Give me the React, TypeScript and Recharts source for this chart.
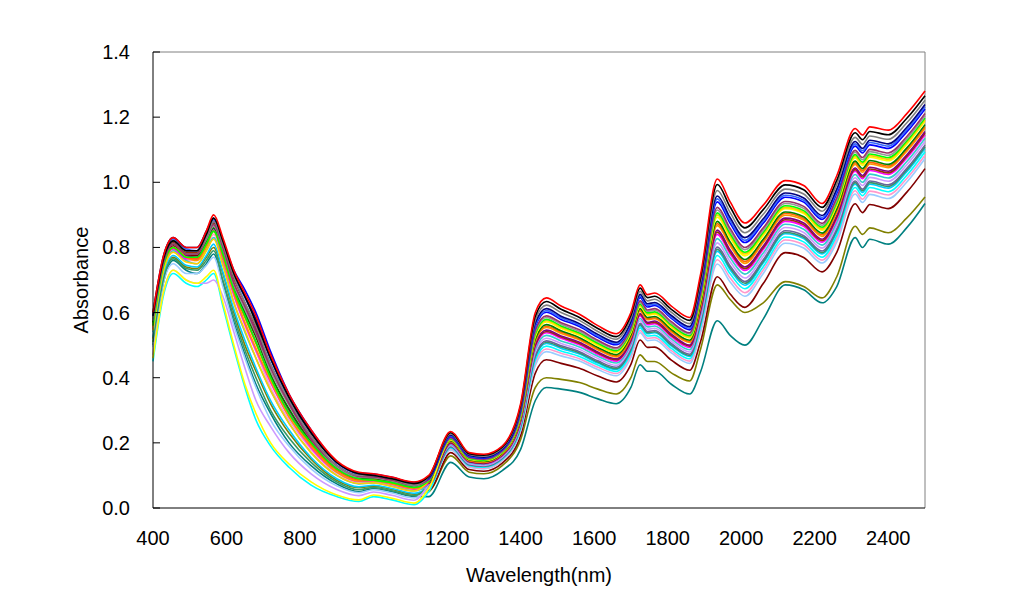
import { LineChart, Line, XAxis, YAxis, ReferenceLine } from "recharts";

// wavelength grid (nm)
const wavelengths = [
  400, 430, 455, 490, 520, 545, 565, 590, 620, 650, 680, 720, 770, 830, 900, 960, 1000, 1050, 1110,
  1150, 1210, 1260, 1300, 1350, 1400, 1440, 1470, 1510, 1560, 1610, 1660, 1700, 1725, 1745, 1765,
  1810, 1860, 1890, 1935, 1970, 2010, 2060, 2120, 2170, 2220, 2260, 2310, 2330, 2350, 2400, 2450, 2500,
];

const xTicks = [400, 600, 800, 1000, 1200, 1400, 1600, 1800, 2000, 2200, 2400];
const yTicks = [0, 0.2, 0.4, 0.6, 0.8, 1.0, 1.2, 1.4];

// absorbance spectra, one array per sample
const teal = [0.50, 0.70, 0.76, 0.73, 0.72, 0.75, 0.78, 0.69, 0.57, 0.47, 0.38, 0.29, 0.20, 0.13, 0.074, 0.05, 0.06, 0.05, 0.035,
  0.035, 0.14, 0.095, 0.09, 0.115, 0.18, 0.33, 0.37, 0.365, 0.355, 0.335, 0.32, 0.37, 0.44, 0.42, 0.42, 0.38, 0.35, 0.42, 0.575, 0.53, 0.50, 0.58, 0.685, 0.67, 0.63, 0.68, 0.83, 0.80, 0.825, 0.81, 0.86, 0.935];
const olive = [0.52, 0.715, 0.77, 0.74, 0.735, 0.77, 0.80, 0.72, 0.60, 0.50, 0.42, 0.32, 0.23, 0.15, 0.085, 0.062, 0.067, 0.057, 0.042,
  0.05, 0.16, 0.11, 0.105, 0.13, 0.21, 0.37, 0.40, 0.395, 0.385, 0.365, 0.35, 0.40, 0.47, 0.45, 0.45, 0.415, 0.39, 0.49, 0.685, 0.64, 0.60, 0.63, 0.695, 0.68, 0.645, 0.71, 0.865, 0.84, 0.86, 0.845, 0.89, 0.955];
const maroon = [0.57, 0.755, 0.805, 0.775, 0.775, 0.815, 0.855, 0.785, 0.675, 0.60, 0.525, 0.41, 0.30, 0.20, 0.12, 0.09, 0.09, 0.08, 0.065,
  0.055, 0.17, 0.118, 0.113, 0.138, 0.223, 0.414, 0.455, 0.444, 0.429, 0.405, 0.387, 0.441, 0.516, 0.493, 0.494, 0.454, 0.423, 0.513, 0.71, 0.657, 0.616, 0.689, 0.784, 0.769, 0.725, 0.785, 0.934, 0.907, 0.932, 0.919, 0.969, 1.042];
const paleBlue = [0.495, 0.70, 0.75, 0.72, 0.72, 0.745, 0.77, 0.68, 0.56, 0.46, 0.37, 0.27, 0.19, 0.12, 0.068, 0.047, 0.056, 0.046, 0.031,
  0.061, 0.178, 0.125, 0.12, 0.145, 0.236, 0.438, 0.48, 0.467, 0.451, 0.425, 0.406, 0.462, 0.538, 0.514, 0.516, 0.476, 0.444, 0.54, 0.749, 0.694, 0.65, 0.72, 0.813, 0.798, 0.752, 0.816, 0.964, 0.938, 0.963, 0.95, 1.00, 1.073];
const rose = [0.55, 0.74, 0.79, 0.76, 0.76, 0.80, 0.84, 0.76, 0.65, 0.56, 0.48, 0.37, 0.27, 0.18, 0.107, 0.079, 0.08, 0.07, 0.056,
  0.063, 0.181, 0.127, 0.122, 0.147, 0.24, 0.446, 0.488, 0.475, 0.458, 0.432, 0.413, 0.469, 0.545, 0.521, 0.523, 0.483, 0.451, 0.549, 0.762, 0.706, 0.661, 0.731, 0.823, 0.808, 0.761, 0.826, 0.974, 0.948, 0.973, 0.961, 1.011, 1.083];
const cyan = [0.45, 0.66, 0.72, 0.69, 0.68, 0.70, 0.72, 0.62, 0.49, 0.37, 0.27, 0.19, 0.125, 0.07, 0.035, 0.02, 0.035, 0.025, 0.01,
  0.05, 0.184, 0.13, 0.125, 0.15, 0.244, 0.454, 0.497, 0.482, 0.465, 0.439, 0.419, 0.476, 0.553, 0.528, 0.53, 0.49, 0.458, 0.558, 0.775, 0.719, 0.673, 0.741, 0.832, 0.817, 0.77, 0.836, 0.984, 0.959, 0.984, 0.971, 1.021, 1.094];
const sky = [0.525, 0.72, 0.775, 0.745, 0.74, 0.775, 0.81, 0.725, 0.61, 0.515, 0.43, 0.33, 0.24, 0.155, 0.09, 0.065, 0.07, 0.06, 0.045,
  0.067, 0.187, 0.132, 0.127, 0.152, 0.249, 0.462, 0.505, 0.49, 0.473, 0.445, 0.425, 0.483, 0.56, 0.535, 0.538, 0.498, 0.465, 0.567, 0.788, 0.731, 0.684, 0.752, 0.842, 0.827, 0.78, 0.847, 0.994, 0.969, 0.994, 0.982, 1.032, 1.104];
const seaGreen = [0.51, 0.71, 0.765, 0.735, 0.73, 0.76, 0.79, 0.70, 0.585, 0.485, 0.40, 0.30, 0.215, 0.14, 0.08, 0.056, 0.063, 0.053, 0.038,
  0.068, 0.188, 0.133, 0.128, 0.153, 0.251, 0.466, 0.509, 0.494, 0.476, 0.448, 0.428, 0.486, 0.563, 0.538, 0.541, 0.501, 0.468, 0.571, 0.794, 0.737, 0.69, 0.757, 0.846, 0.831, 0.784, 0.852, 0.999, 0.974, 0.999, 0.987, 1.037, 1.109];
const blueGray = [0.565, 0.75, 0.80, 0.77, 0.77, 0.81, 0.85, 0.78, 0.67, 0.59, 0.51, 0.40, 0.295, 0.195, 0.117, 0.088, 0.088, 0.078, 0.062,
  0.069, 0.189, 0.134, 0.129, 0.154, 0.253, 0.47, 0.513, 0.498, 0.48, 0.452, 0.432, 0.49, 0.567, 0.542, 0.545, 0.505, 0.472, 0.576, 0.801, 0.743, 0.695, 0.762, 0.851, 0.836, 0.789, 0.857, 1.004, 0.979, 1.004, 0.992, 1.042, 1.114];
const lavender = [0.47, 0.67, 0.73, 0.70, 0.69, 0.69, 0.70, 0.65, 0.54, 0.43, 0.33, 0.25, 0.17, 0.105, 0.057, 0.038, 0.049, 0.039, 0.024,
  0.071, 0.192, 0.136, 0.131, 0.156, 0.257, 0.479, 0.521, 0.505, 0.487, 0.459, 0.438, 0.497, 0.575, 0.549, 0.552, 0.512, 0.479, 0.585, 0.814, 0.756, 0.706, 0.773, 0.861, 0.846, 0.798, 0.867, 1.014, 0.99, 1.015, 1.003, 1.053, 1.125];
const aqua = [0.54, 0.73, 0.79, 0.76, 0.75, 0.79, 0.83, 0.75, 0.63, 0.54, 0.46, 0.36, 0.26, 0.17, 0.10, 0.074, 0.077, 0.067, 0.052,
  0.073, 0.195, 0.139, 0.134, 0.159, 0.261, 0.487, 0.53, 0.513, 0.494, 0.466, 0.445, 0.503, 0.582, 0.556, 0.559, 0.519, 0.486, 0.594, 0.827, 0.768, 0.718, 0.783, 0.871, 0.856, 0.807, 0.877, 1.024, 1.00, 1.025, 1.013, 1.063, 1.135];
const magenta = [0.55, 0.745, 0.795, 0.765, 0.765, 0.81, 0.855, 0.765, 0.655, 0.565, 0.485, 0.385, 0.28, 0.185, 0.11, 0.082, 0.083, 0.073, 0.058,
  0.075, 0.198, 0.141, 0.136, 0.161, 0.265, 0.495, 0.538, 0.521, 0.501, 0.472, 0.451, 0.51, 0.59, 0.563, 0.566, 0.526, 0.493, 0.603, 0.84, 0.78, 0.729, 0.794, 0.88, 0.865, 0.816, 0.887, 1.034, 1.011, 1.036, 1.024, 1.074, 1.146];
const brown = [0.585, 0.765, 0.815, 0.785, 0.785, 0.835, 0.875, 0.81, 0.705, 0.63, 0.555, 0.44, 0.325, 0.22, 0.13, 0.10, 0.098, 0.088, 0.072,
  0.076, 0.20, 0.142, 0.137, 0.162, 0.268, 0.499, 0.542, 0.525, 0.505, 0.476, 0.455, 0.514, 0.594, 0.567, 0.57, 0.53, 0.497, 0.608, 0.847, 0.786, 0.735, 0.799, 0.885, 0.87, 0.821, 0.893, 1.039, 1.016, 1.041, 1.029, 1.079, 1.151];
const purple = [0.57, 0.75, 0.80, 0.775, 0.77, 0.82, 0.86, 0.795, 0.69, 0.615, 0.545, 0.435, 0.325, 0.215, 0.13, 0.098, 0.096, 0.086, 0.071,
  0.077, 0.201, 0.143, 0.138, 0.163, 0.27, 0.503, 0.546, 0.528, 0.509, 0.479, 0.458, 0.517, 0.597, 0.57, 0.574, 0.534, 0.50, 0.612, 0.853, 0.792, 0.74, 0.804, 0.89, 0.875, 0.825, 0.898, 1.044, 1.021, 1.046, 1.034, 1.084, 1.156];
const orange = [0.555, 0.74, 0.80, 0.77, 0.76, 0.80, 0.85, 0.77, 0.66, 0.57, 0.49, 0.39, 0.28, 0.19, 0.11, 0.083, 0.084, 0.074, 0.059,
  0.079, 0.204, 0.145, 0.14, 0.165, 0.274, 0.511, 0.554, 0.536, 0.516, 0.486, 0.464, 0.524, 0.604, 0.578, 0.581, 0.541, 0.508, 0.621, 0.867, 0.805, 0.751, 0.815, 0.899, 0.884, 0.834, 0.908, 1.055, 1.031, 1.056, 1.045, 1.095, 1.166];
const darkOrange = [0.56, 0.75, 0.80, 0.77, 0.765, 0.81, 0.85, 0.775, 0.665, 0.585, 0.505, 0.40, 0.29, 0.195, 0.116, 0.087, 0.087, 0.077, 0.062,
  0.08, 0.205, 0.146, 0.141, 0.166, 0.276, 0.515, 0.558, 0.54, 0.519, 0.489, 0.467, 0.527, 0.608, 0.581, 0.584, 0.544, 0.511, 0.625, 0.873, 0.811, 0.757, 0.82, 0.904, 0.889, 0.839, 0.913, 1.06, 1.036, 1.061, 1.05, 1.10, 1.171];
const green = [0.57, 0.76, 0.81, 0.78, 0.78, 0.82, 0.86, 0.79, 0.68, 0.60, 0.53, 0.41, 0.305, 0.205, 0.123, 0.092, 0.091, 0.081, 0.066,
  0.081, 0.207, 0.148, 0.143, 0.168, 0.278, 0.519, 0.563, 0.544, 0.523, 0.493, 0.471, 0.531, 0.612, 0.585, 0.588, 0.548, 0.515, 0.63, 0.88, 0.817, 0.763, 0.825, 0.909, 0.894, 0.844, 0.918, 1.065, 1.042, 1.067, 1.055, 1.105, 1.177];
const yellow = [0.46, 0.67, 0.73, 0.70, 0.69, 0.71, 0.73, 0.63, 0.50, 0.38, 0.29, 0.20, 0.135, 0.08, 0.04, 0.025, 0.04, 0.03, 0.015,
  0.06, 0.209, 0.15, 0.145, 0.17, 0.282, 0.527, 0.571, 0.551, 0.53, 0.499, 0.477, 0.538, 0.619, 0.592, 0.595, 0.555, 0.522, 0.639, 0.893, 0.829, 0.774, 0.836, 0.919, 0.904, 0.853, 0.928, 1.075, 1.052, 1.077, 1.066, 1.116, 1.187];
const gold = [0.545, 0.735, 0.785, 0.755, 0.75, 0.79, 0.825, 0.745, 0.63, 0.545, 0.46, 0.36, 0.26, 0.17, 0.10, 0.075, 0.077, 0.066, 0.052,
  0.083, 0.21, 0.151, 0.146, 0.171, 0.284, 0.531, 0.575, 0.555, 0.533, 0.503, 0.48, 0.541, 0.622, 0.595, 0.598, 0.558, 0.525, 0.643, 0.90, 0.835, 0.78, 0.841, 0.923, 0.908, 0.857, 0.933, 1.08, 1.057, 1.082, 1.071, 1.121, 1.192];
const lime = [0.56, 0.75, 0.80, 0.77, 0.77, 0.81, 0.85, 0.78, 0.67, 0.59, 0.51, 0.40, 0.29, 0.20, 0.12, 0.09, 0.085, 0.078, 0.063,
  0.084, 0.212, 0.152, 0.147, 0.172, 0.286, 0.535, 0.579, 0.559, 0.537, 0.506, 0.483, 0.545, 0.626, 0.599, 0.602, 0.562, 0.529, 0.648, 0.906, 0.842, 0.785, 0.846, 0.928, 0.913, 0.862, 0.938, 1.085, 1.062, 1.087, 1.076, 1.126, 1.197];
const gray40 = [0.575, 0.76, 0.81, 0.78, 0.78, 0.825, 0.865, 0.795, 0.685, 0.61, 0.535, 0.42, 0.315, 0.21, 0.126, 0.095, 0.093, 0.083, 0.068,
  0.086, 0.214, 0.154, 0.149, 0.174, 0.289, 0.541, 0.585, 0.564, 0.542, 0.511, 0.488, 0.55, 0.631, 0.604, 0.607, 0.567, 0.534, 0.654, 0.915, 0.85, 0.793, 0.853, 0.935, 0.92, 0.868, 0.945, 1.092, 1.069, 1.094, 1.083, 1.133, 1.204];
const plum = [0.58, 0.76, 0.81, 0.78, 0.78, 0.83, 0.87, 0.80, 0.69, 0.62, 0.54, 0.43, 0.32, 0.21, 0.13, 0.097, 0.095, 0.085, 0.07,
  0.087, 0.216, 0.155, 0.15, 0.175, 0.292, 0.546, 0.59, 0.569, 0.547, 0.515, 0.492, 0.554, 0.636, 0.608, 0.612, 0.572, 0.538, 0.66, 0.923, 0.858, 0.80, 0.86, 0.941, 0.926, 0.874, 0.952, 1.098, 1.076, 1.101, 1.09, 1.14, 1.211];
const blue = [0.59, 0.77, 0.82, 0.79, 0.79, 0.84, 0.88, 0.82, 0.73, 0.67, 0.60, 0.48, 0.35, 0.24, 0.14, 0.108, 0.104, 0.094, 0.078,
  0.09, 0.22, 0.158, 0.153, 0.178, 0.298, 0.557, 0.601, 0.579, 0.557, 0.524, 0.501, 0.563, 0.646, 0.617, 0.622, 0.582, 0.547, 0.672, 0.94, 0.874, 0.815, 0.874, 0.954, 0.939, 0.886, 0.966, 1.111, 1.09, 1.115, 1.104, 1.154, 1.225];
const royal = [0.59, 0.775, 0.825, 0.795, 0.79, 0.84, 0.885, 0.815, 0.715, 0.645, 0.575, 0.455, 0.335, 0.23, 0.138, 0.104, 0.10, 0.091, 0.076,
  0.091, 0.222, 0.16, 0.155, 0.18, 0.30, 0.562, 0.606, 0.584, 0.561, 0.528, 0.505, 0.567, 0.651, 0.622, 0.626, 0.586, 0.552, 0.678, 0.949, 0.882, 0.822, 0.881, 0.96, 0.945, 0.892, 0.972, 1.118, 1.097, 1.122, 1.111, 1.161, 1.232];
const navy = [0.60, 0.78, 0.83, 0.80, 0.80, 0.85, 0.89, 0.82, 0.72, 0.65, 0.58, 0.46, 0.34, 0.235, 0.14, 0.107, 0.103, 0.093, 0.078,
  0.092, 0.224, 0.161, 0.156, 0.181, 0.303, 0.568, 0.612, 0.589, 0.566, 0.533, 0.509, 0.572, 0.656, 0.627, 0.631, 0.591, 0.557, 0.684, 0.958, 0.891, 0.83, 0.888, 0.967, 0.952, 0.898, 0.979, 1.125, 1.104, 1.129, 1.118, 1.168, 1.239];
const gray = [0.58, 0.77, 0.82, 0.79, 0.79, 0.83, 0.88, 0.81, 0.71, 0.63, 0.56, 0.44, 0.33, 0.22, 0.13, 0.10, 0.10, 0.09, 0.07,
  0.095, 0.227, 0.164, 0.159, 0.184, 0.309, 0.578, 0.623, 0.60, 0.576, 0.542, 0.518, 0.582, 0.665, 0.636, 0.641, 0.601, 0.566, 0.696, 0.975, 0.907, 0.845, 0.902, 0.979, 0.964, 0.911, 0.993, 1.138, 1.117, 1.142, 1.132, 1.182, 1.252];
const black = [0.59, 0.77, 0.82, 0.79, 0.79, 0.84, 0.89, 0.82, 0.72, 0.65, 0.57, 0.46, 0.34, 0.23, 0.14, 0.105, 0.10, 0.09, 0.075,
  0.097, 0.231, 0.167, 0.162, 0.187, 0.314, 0.589, 0.634, 0.61, 0.585, 0.551, 0.526, 0.591, 0.675, 0.646, 0.65, 0.61, 0.576, 0.708, 0.993, 0.924, 0.86, 0.916, 0.992, 0.977, 0.923, 1.006, 1.152, 1.131, 1.156, 1.146, 1.196, 1.266];
const red = [0.60, 0.78, 0.83, 0.80, 0.80, 0.85, 0.90, 0.83, 0.73, 0.66, 0.59, 0.47, 0.35, 0.24, 0.145, 0.11, 0.105, 0.095, 0.08,
  0.10, 0.235, 0.17, 0.165, 0.19, 0.32, 0.60, 0.645, 0.62, 0.595, 0.56, 0.535, 0.60, 0.685, 0.655, 0.66, 0.62, 0.585, 0.72, 1.01, 0.94, 0.875, 0.93, 1.005, 0.99, 0.935, 1.02, 1.165, 1.145, 1.17, 1.16, 1.21, 1.28];

const series = [
  { key: "teal", color: "#008080", values: teal },
  { key: "olive", color: "#808000", values: olive },
  { key: "maroon", color: "#800000", values: maroon },
  { key: "paleBlue", color: "#99CCFF", values: paleBlue },
  { key: "rose", color: "#FF99CC", values: rose },
  { key: "cyan", color: "#00FFFF", values: cyan },
  { key: "sky", color: "#00CCFF", values: sky },
  { key: "seaGreen", color: "#339966", values: seaGreen },
  { key: "blueGray", color: "#666699", values: blueGray },
  { key: "lavender", color: "#CC99FF", values: lavender },
  { key: "aqua", color: "#33CCCC", values: aqua },
  { key: "magenta", color: "#FF00FF", values: magenta },
  { key: "brown", color: "#993300", values: brown },
  { key: "purple", color: "#800080", values: purple },
  { key: "orange", color: "#FF9900", values: orange },
  { key: "darkOrange", color: "#FF6600", values: darkOrange },
  { key: "green", color: "#008000", values: green },
  { key: "yellow", color: "#FFFF00", values: yellow },
  { key: "gold", color: "#FFCC00", values: gold },
  { key: "lime", color: "#00FF00", values: lime },
  { key: "gray40", color: "#969696", values: gray40 },
  { key: "plum", color: "#993366", values: plum },
  { key: "blue", color: "#0000FF", values: blue },
  { key: "royal", color: "#3366FF", values: royal },
  { key: "navy", color: "#000080", values: navy },
  { key: "gray", color: "#808080", values: gray },
  { key: "black", color: "#000000", values: black },
  { key: "red", color: "#FF0000", values: red },
];

const data = wavelengths.map((w, i) => {
  const row: Record<string, number> = { w };
  series.forEach((s) => {
    row[s.key] = s.values[i];
  });
  return row;
});

const font = "Arial, 'Liberation Sans', sans-serif";

function YTick({ x, y, payload }: any) {
  return (
    <g>
      <line x1={x + 23} x2={x + 30} y1={y} y2={y} stroke="#000" strokeWidth={1} />
      <text x={x} y={y} dy="0.35em" textAnchor="end" fontSize={20} fontFamily={font} fill="#000">
        {Number(payload.value).toFixed(1)}
      </text>
    </g>
  );
}

export default function App() {
  return (
    <LineChart
      width={1006}
      height={580}
      data={data}
      margin={{ top: 44, right: 89, left: 1, bottom: 0 }}
      style={{ fontFamily: font }}
    >
      <XAxis
        dataKey="w"
        type="number"
        domain={[400, 2500]}
        ticks={xTicks}
        tickLine={false}
        tickSize={0}
        tickMargin={23}
        height={80}
        axisLine={{ stroke: "#000", strokeWidth: 1 }}
        tick={{ fontSize: 20, fill: "#000", fontFamily: font }}
        label={{ value: "Wavelength(nm)", position: "insideBottom", offset: 6, fontSize: 20, fill: "#000", fontFamily: font }}
      />
      <YAxis
        type="number"
        domain={[0, 1.4]}
        ticks={yTicks}
        tickLine={false}
        tickSize={0}
        tickMargin={23}
        width={144}
        axisLine={{ stroke: "#000", strokeWidth: 1 }}
        tick={<YTick />}
        label={{ value: "Absorbance", angle: -90, position: "center", fontSize: 20, fill: "#000", fontFamily: font }}
      />
      <ReferenceLine y={1.4} stroke="#808080" strokeWidth={1} />
      <ReferenceLine x={2500} stroke="#808080" strokeWidth={1} />
      {series.map((s) => (
        <Line
          key={s.key}
          dataKey={s.key}
          type="monotone"
          stroke={s.color}
          strokeWidth={1.6}
          dot={false}
          activeDot={false}
          isAnimationActive={false}
        />
      ))}
    </LineChart>
  );
}
